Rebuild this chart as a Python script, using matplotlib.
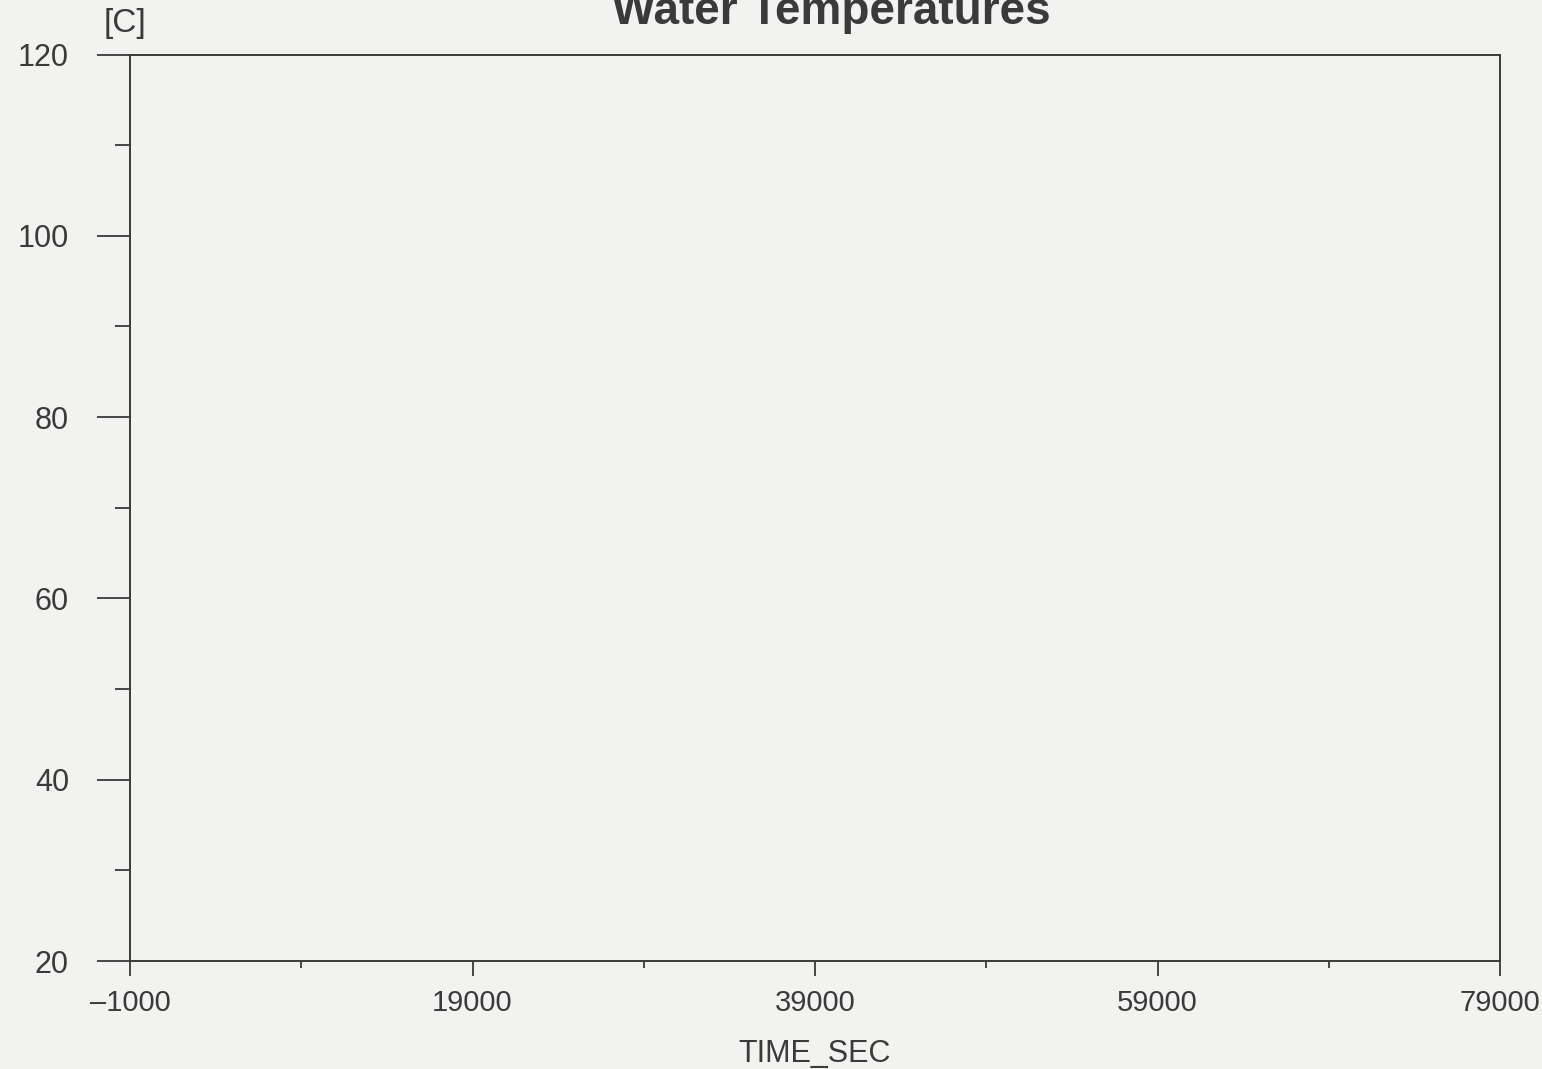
import matplotlib
matplotlib.use("Agg")
import matplotlib.pyplot as plt
from matplotlib.ticker import FixedLocator

# chart content (the scanned plot has no curves, only the empty frame)
title = "Water Temperatures"
y_unit = "[C]"
x_label = "TIME_SEC"
x_ticks = [-1000, 19000, 39000, 59000, 79000]
y_ticks = [20, 40, 60, 80, 100, 120]

bg = "#f2f2f0"
ink = "#3a3a3a"

plt.rcParams['font.family'] = ['Liberation Sans', 'DejaVu Sans']

fig = plt.figure(figsize=(15.42, 10.69), dpi=100, facecolor=bg)
ax = fig.add_axes([0.0843, 0.101, 0.8885, 0.848], facecolor=bg)

ax.set_xlim(x_ticks[0], x_ticks[-1])
ax.set_ylim(y_ticks[0], y_ticks[-1])
ax.set_xticks(x_ticks)
ax.set_yticks(y_ticks)
# one minor tick half way between the labelled ones
ax.xaxis.set_minor_locator(FixedLocator([(a + b) / 2 for a, b in zip(x_ticks[:-1], x_ticks[1:])]))
ax.yaxis.set_minor_locator(FixedLocator([(a + b) / 2 for a, b in zip(y_ticks[:-1], y_ticks[1:])]))
ax.set_xticklabels(["\u20131000"] + [str(v) for v in x_ticks[1:]])

for s in ax.spines.values():
    s.set_color(ink)
    s.set_linewidth(1.4)

ax.tick_params(axis='y', which='major', direction='out', length=24, width=1.3,
               color=ink, labelsize=22, labelcolor=ink, pad=20)
ax.tick_params(axis='y', which='minor', direction='out', length=11, width=1.3, color=ink)
ax.tick_params(axis='x', which='major', direction='out', length=11, width=1.3,
               color=ink, labelsize=21, labelcolor=ink, pad=9)
ax.tick_params(axis='x', which='minor', direction='out', length=5, width=1.3, color=ink)

ax.set_xlabel(x_label, fontsize=22, color=ink, labelpad=16)
fig.text(0.081, 0.978, y_unit, fontsize=24, color=ink, ha='center', va='center')
# the scan cuts the top of the title off, keep it that way
fig.text(0.539, 0.989, title, fontsize=33, fontweight='bold', color=ink,
         ha='center', va='center')

fig.savefig("out.png", dpi=100, facecolor=bg)
